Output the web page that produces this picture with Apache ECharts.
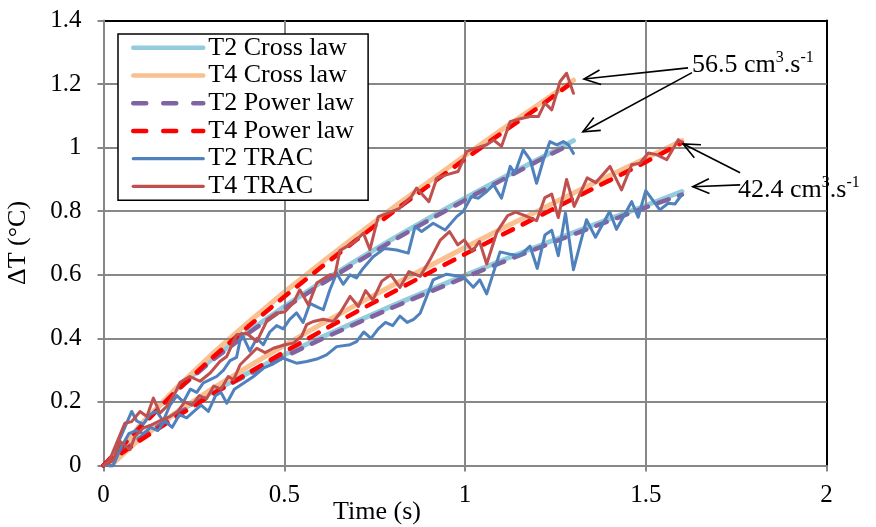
<!DOCTYPE html>
<html>
<head>
<meta charset="utf-8">
<script src="https://cdn.jsdelivr.net/npm/echarts@6/dist/echarts.min.js"></script>
<style>
html,body{margin:0;padding:0;background:#fff;}
#c{width:876px;height:527px;}
</style>
</head>
<body>
<div id="c"></div>
<script>
// ---------- data ----------
const xTicks = [0, 0.5, 1, 1.5, 2];
const yTicks = [0, 0.2, 0.4, 0.6, 0.8, 1, 1.2, 1.4];
const legendNames = ['T2 Cross law', 'T4 Cross law', 'T2 Power law', 'T4 Power law', 'T2 TRAC', 'T4 TRAC'];

// model curves, flow 56.5 cm3/s (end at 1.3 s)
const crossT_56 = [0.02, 0.1, 0.2, 0.3, 0.4, 0.5, 0.6, 0.7, 0.8, 0.9, 1.0, 1.1, 1.2, 1.3];
const powerT_56 = [0, 0.1, 0.2, 0.3, 0.4, 0.5, 0.6, 0.7, 0.8, 0.9, 1.0, 1.1, 1.2, 1.29];
const cross_T2_56 = [0, 0.125, 0.238, 0.335, 0.421, 0.500, 0.575, 0.645, 0.713, 0.778, 0.841, 0.902, 0.962, 1.022];
const cross_T4_56 = [0, 0.125, 0.242, 0.350, 0.450, 0.545, 0.636, 0.724, 0.810, 0.893, 0.975, 1.055, 1.133, 1.212];
const power_T2_56 = [0, 0.120, 0.233, 0.330, 0.416, 0.494, 0.569, 0.639, 0.707, 0.772, 0.835, 0.897, 0.957, 1.010];
const power_T4_56 = [0, 0.118, 0.233, 0.338, 0.437, 0.531, 0.622, 0.710, 0.797, 0.881, 0.964, 1.045, 1.124, 1.200];

// model curves, flow 42.4 cm3/s (end at 1.6 s)
const crossT_42 = [0.02, 0.1, 0.2, 0.3, 0.4, 0.5, 0.6, 0.7, 0.8, 0.9, 1.0, 1.1, 1.2, 1.3, 1.4, 1.5, 1.6];
const powerT_42 = [0, 0.1, 0.2, 0.3, 0.4, 0.5, 0.6, 0.7, 0.8, 0.9, 1.0, 1.1, 1.2, 1.3, 1.4, 1.5, 1.6];
const cross_T2_42 = [0, 0.089, 0.165, 0.231, 0.291, 0.348, 0.402, 0.453, 0.503, 0.551, 0.598, 0.644, 0.689, 0.733, 0.776, 0.818, 0.862];
const cross_T4_42 = [0, 0.083, 0.166, 0.241, 0.311, 0.378, 0.443, 0.506, 0.567, 0.627, 0.686, 0.744, 0.800, 0.857, 0.912, 0.967, 1.022];
const power_T2_42 = [0, 0.085, 0.160, 0.226, 0.286, 0.342, 0.396, 0.447, 0.497, 0.545, 0.592, 0.638, 0.683, 0.727, 0.770, 0.812, 0.852];
const power_T4_42 = [0, 0.078, 0.152, 0.223, 0.291, 0.357, 0.421, 0.484, 0.545, 0.606, 0.665, 0.724, 0.782, 0.840, 0.897, 0.955, 1.015];

// measured TRAC [time, dT]
const trac_T2_56 = [[0,0],[0.027,0],[0.040,0.07],[0.059,0.12],[0.078,0.17],[0.092,0.14],[0.110,0.13],[0.128,0.16],[0.147,0.17],[0.165,0.14],[0.184,0.19],[0.203,0.22],[0.221,0.20],[0.240,0.24],[0.258,0.23],[0.276,0.26],[0.295,0.27],[0.313,0.28],[0.332,0.30],[0.350,0.33],[0.368,0.34],[0.382,0.416],[0.405,0.36],[0.424,0.40],[0.442,0.38],[0.460,0.42],[0.479,0.44],[0.497,0.43],[0.515,0.46],[0.534,0.48],[0.552,0.45],[0.571,0.51],[0.589,0.50],[0.608,0.49],[0.626,0.552],[0.645,0.605],[0.663,0.57],[0.682,0.60],[0.700,0.59],[0.718,0.62],[0.746,0.657],[0.778,0.683],[0.811,0.678],[0.843,0.668],[0.862,0.752],[0.880,0.736],[0.912,0.762],[0.945,0.741],[0.977,0.783],[0.995,0.799],[1.018,0.846],[1.037,0.841],[1.060,0.862],[1.079,0.883],[1.101,0.841],[1.125,0.941],[1.138,0.920],[1.161,0.993],[1.180,0.962],[1.198,0.888],[1.217,0.962],[1.235,1.019],[1.254,1.009],[1.272,1.019],[1.286,1.009],[1.300,0.982]];
const trac_T4_56 = [[0,0],[0.018,0.02],[0.036,0.07],[0.059,0.133],[0.078,0.138],[0.101,0.170],[0.120,0.154],[0.138,0.212],[0.156,0.165],[0.175,0.186],[0.198,0.228],[0.212,0.262],[0.239,0.280],[0.267,0.265],[0.295,0.291],[0.322,0.327],[0.341,0.343],[0.368,0.411],[0.396,0.416],[0.424,0.390],[0.451,0.453],[0.479,0.479],[0.502,0.484],[0.525,0.511],[0.543,0.553],[0.567,0.505],[0.590,0.574],[0.626,0.600],[0.640,0.598],[0.654,0.676],[0.696,0.705],[0.719,0.731],[0.737,0.679],[0.760,0.783],[0.788,0.794],[0.820,0.810],[0.852,0.846],[0.866,0.873],[0.900,0.830],[0.922,0.904],[0.950,0.915],[0.981,0.925],[1.005,0.988],[1.035,1.000],[1.060,1.009],[1.079,1.024],[1.101,1.004],[1.125,1.082],[1.150,1.090],[1.180,1.098],[1.203,1.098],[1.221,1.140],[1.240,1.119],[1.263,1.208],[1.281,1.234],[1.300,1.171]];
const trac_T2_42 = [[0,0],[0.027,0],[0.05,0.06],[0.07,0.10],[0.09,0.11],[0.11,0.10],[0.13,0.12],[0.15,0.11],[0.17,0.14],[0.19,0.12],[0.21,0.16],[0.23,0.15],[0.25,0.17],[0.27,0.19],[0.29,0.17],[0.31,0.22],[0.325,0.23],[0.341,0.196],[0.362,0.24],[0.387,0.259],[0.415,0.28],[0.442,0.306],[0.470,0.32],[0.497,0.338],[0.515,0.33],[0.534,0.322],[0.562,0.327],[0.590,0.335],[0.617,0.348],[0.645,0.374],[0.682,0.380],[0.700,0.39],[0.720,0.42],[0.740,0.40],[0.760,0.43],[0.780,0.45],[0.800,0.44],[0.820,0.47],[0.840,0.45],[0.858,0.46],[0.876,0.479],[0.912,0.584],[0.949,0.602],[0.996,0.593],[1.023,0.561],[1.041,0.584],[1.060,0.540],[1.097,0.672],[1.124,0.665],[1.152,0.660],[1.180,0.690],[1.200,0.620],[1.221,0.725],[1.240,0.740],[1.258,0.660],[1.278,0.794],[1.300,0.616],[1.336,0.773],[1.361,0.718],[1.400,0.799],[1.419,0.743],[1.461,0.830],[1.479,0.781],[1.500,0.865],[1.539,0.804],[1.562,0.825],[1.581,0.823],[1.599,0.851]];
const trac_T4_42 = [[0,0],[0.027,0.018],[0.046,0.076],[0.073,0.050],[0.087,0.091],[0.110,0.118],[0.133,0.128],[0.161,0.144],[0.184,0.154],[0.205,0.17],[0.225,0.20],[0.245,0.19],[0.265,0.22],[0.285,0.21],[0.305,0.25],[0.325,0.24],[0.345,0.28],[0.360,0.27],[0.378,0.317],[0.401,0.343],[0.424,0.369],[0.447,0.355],[0.470,0.369],[0.502,0.380],[0.525,0.385],[0.548,0.406],[0.562,0.443],[0.580,0.453],[0.608,0.46],[0.636,0.453],[0.654,0.479],[0.682,0.532],[0.705,0.50],[0.725,0.55],[0.745,0.52],[0.770,0.58],[0.795,0.60],[0.820,0.56],[0.845,0.61],[0.876,0.595],[0.903,0.647],[0.931,0.708],[0.957,0.736],[0.980,0.694],[0.998,0.710],[1.020,0.674],[1.040,0.705],[1.060,0.634],[1.088,0.734],[1.118,0.786],[1.140,0.797],[1.166,0.786],[1.198,0.770],[1.221,0.843],[1.240,0.854],[1.258,0.780],[1.281,0.900],[1.302,0.815],[1.338,0.905],[1.362,0.890],[1.401,0.941],[1.433,0.867],[1.461,0.946],[1.484,0.951],[1.507,0.983],[1.530,0.978],[1.558,0.962],[1.590,1.025],[1.600,1.015]];

// annotation arrows [fromT, fromY, toT, toY] in data units
const arrows = [[1.617, 1.251, 1.329, 1.216], [1.628, 1.236, 1.326, 1.050], [1.761, 0.921, 1.603, 1.012], [1.761, 0.883, 1.630, 0.877]];
const annotationTexts = ['56.5 cm{sup|3}.s{sup|-1}', '42.4 cm{sup|3}.s{sup|-1}'];

// ---------- chart ----------
const FONT = 'Liberation Serif';
const zip = (ts, ys) => ts.map((t, i) => [t, ys[i]]);
const col = {
  c2: '#93CDDD', c4: '#FAC090', p2: '#8064A2', p4: '#FF0000', t2: '#4F81BD', t4: '#C0504D'
};
function line(name, data, color, width, dashed, z) {
  return {
    name, type: 'line', data, symbol: 'none', showSymbol: false, z: z,
    lineStyle: dashed ? {color, width, type: [11, 11], cap: 'round'} : {color, width, cap: 'round', join: 'round'},
    itemStyle: {color}, animation: false, silent: true
  };
}
const series = [
  line('T2 Cross law', zip(crossT_56, cross_T2_56), col.c2, 5, false, 2),
  line('T2 Cross law', zip(crossT_42, cross_T2_42), col.c2, 5, false, 2),
  line('T4 Cross law', zip(crossT_56, cross_T4_56), col.c4, 5, false, 2),
  line('T4 Cross law', zip(crossT_42, cross_T4_42), col.c4, 5, false, 2),
  line('T2 Power law', zip(powerT_56, power_T2_56), col.p2, 4.5, true, 3),
  line('T2 Power law', zip(powerT_42, power_T2_42), col.p2, 4.5, true, 3),
  line('T4 Power law', zip(powerT_56, power_T4_56), col.p4, 4.5, true, 3),
  line('T4 Power law', zip(powerT_42, power_T4_42), col.p4, 4.5, true, 3),
  line('T2 TRAC', trac_T2_56, col.t2, 3, false, 4),
  line('T2 TRAC', trac_T2_42, col.t2, 3, false, 4),
  line('T4 TRAC', trac_T4_56, col.t4, 3, false, 4),
  line('T4 TRAC', trac_T4_42, col.t4, 3, false, 4),
  {
    type: 'custom', name: 'arrows', data: arrows, clip: false, silent: true, z: 6,
    renderItem: function (params, api) {
      const a = api.coord([api.value(0), api.value(1)]);
      const b = api.coord([api.value(2), api.value(3)]);
      const ang = Math.atan2(a[1] - b[1], a[0] - b[0]);
      const L = 18, h = 0.42;
      const p1 = [b[0] + L * Math.cos(ang + h), b[1] + L * Math.sin(ang + h)];
      const p2 = [b[0] + L * Math.cos(ang - h), b[1] + L * Math.sin(ang - h)];
      return {
        type: 'group',
        children: [
          {type: 'line', shape: {x1: a[0], y1: a[1], x2: b[0], y2: b[1]}, style: {stroke: '#000', lineWidth: 1.6}},
          {type: 'polyline', shape: {points: [p1, b, p2]}, style: {stroke: '#000', lineWidth: 1.6, fill: null}}
        ]
      };
    }
  }
];

const GRAY = '#878787';
const axisCommon = {
  axisLine: {show: true, lineStyle: {color: GRAY, width: 2}},
  axisTick: {show: true, inside: false, length: 6, lineStyle: {color: GRAY, width: 2}},
  splitLine: {show: true, showMinLine: false, showMaxLine: false, lineStyle: {color: GRAY, width: 2}},
};
const frameAxis = {
  type: 'value', axisLine: {show: true, onZero: false, lineStyle: {color: '#000', width: 2}},
  axisTick: {show: false}, axisLabel: {show: false}, splitLine: {show: false}
};

const legendItem = (name, width, dashed) => ({
  name,
  itemStyle: {opacity: 0},
  lineStyle: dashed ? {width, type: [13, 17], cap: 'round'} : {width, cap: 'round'}
});

const option = {
  backgroundColor: '#fff',
  animation: false,
  grid: {left: 103.5, right: 49.5, top: 20.5, bottom: 61.5, outerBoundsMode: 'none', containLabel: false, show: false},
  xAxis: [
    Object.assign({
      type: 'value', min: xTicks[0], max: xTicks[xTicks.length - 1], interval: 0.5, position: 'bottom', z: 3,
      axisLabel: {fontFamily: FONT, fontSize: 25, color: '#000', margin: 17}
    }, axisCommon),
    Object.assign({min: xTicks[0], max: xTicks[xTicks.length - 1], position: 'top'}, frameAxis)
  ],
  yAxis: [
    Object.assign({
      type: 'value', min: yTicks[0], max: yTicks[yTicks.length - 1], interval: 0.2, position: 'left', z: 3,
      name: 'ΔT (°C)', nameLocation: 'middle', nameGap: 72,
      nameTextStyle: {fontFamily: FONT, fontSize: 26, color: '#000'},
      axisLabel: {fontFamily: FONT, fontSize: 25, color: '#000', margin: 22}
    }, axisCommon),
    Object.assign({min: yTicks[0], max: yTicks[yTicks.length - 1], position: 'right'}, frameAxis)
  ],
  legend: {
    orient: 'vertical', left: 118, top: 34, padding: [0, 14, 0, 13], itemGap: 0,
    itemWidth: 70, itemHeight: 14, backgroundColor: '#fff', borderColor: '#000', borderWidth: 1.5,
    itemStyle: {opacity: 0},
    textStyle: {fontFamily: FONT, fontSize: 26, color: '#000', lineHeight: 27.7},
    data: [legendItem(legendNames[0], 4.5), legendItem(legendNames[1], 4.5), legendItem(legendNames[2], 4.5, true),
           legendItem(legendNames[3], 4.5, true), legendItem(legendNames[4], 3.2), legendItem(legendNames[5], 3.2)],
    selectedMode: false
  },
  graphic: [
    {type: 'text', x: 377, y: 512, z: 10, style: {text: 'Time (s)', fontFamily: FONT, fontSize: 26, fill: '#000', align: 'center', verticalAlign: 'middle', textAlign: 'center', textVerticalAlign: 'middle'}},
    {type: 'text', x: 692, y: 65, z: 10, style: {text: annotationTexts[0], fontFamily: FONT, fontSize: 26, fill: '#000', align: 'left', verticalAlign: 'middle', lineHeight: 30,
      rich: {sup: {fontFamily: FONT, fontSize: 16, fill: '#000', verticalAlign: 'top', lineHeight: 30, padding: [0, 0, 10, 0]}}}},
    {type: 'text', x: 738, y: 190, z: 10, style: {text: annotationTexts[1], fontFamily: FONT, fontSize: 26, fill: '#000', align: 'left', verticalAlign: 'middle', lineHeight: 30,
      rich: {sup: {fontFamily: FONT, fontSize: 16, fill: '#000', verticalAlign: 'top', lineHeight: 30, padding: [0, 0, 10, 0]}}}}
  ],
  series
};
const chart = echarts.init(document.getElementById('c'), null, {renderer: 'canvas'});
chart.setOption(option);
</script>
</body>
</html>
